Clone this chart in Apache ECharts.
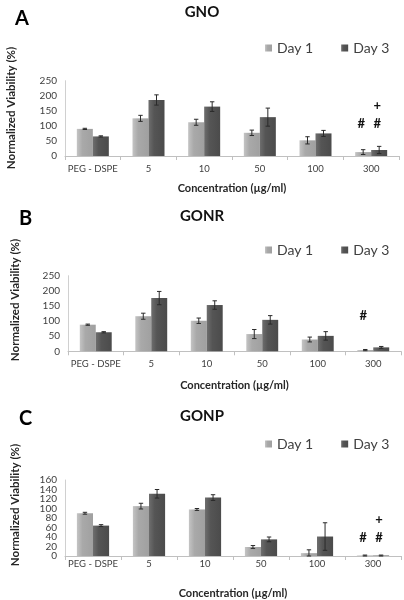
<!DOCTYPE html>
<html><head><meta charset="utf-8">
<script src="https://cdn.jsdelivr.net/npm/echarts@6/dist/echarts.min.js"></script>
<style>html,body{margin:0;padding:0;background:#fff}#c{width:404px;height:600px}</style>
</head><body><div id="c"></div>
<script>
var categories = ['PEG - DSPE', '5', '10', '50', '100', '300'];
var seriesNames = ['Day 1', 'Day 3'];
var panelLetters = ['A', 'B', 'C'];
var panelTitles = ['GNO', 'GONR', 'GONP'];
var yLabel = 'Normalized Viability (%)';
var xLabel = 'Concentration (\u00b5g/ml)';

var gnoDay1 = [90, 125, 112, 77, 52, 13];
var gnoDay1Err = [2, 10, 10, 9, 12, 8];
var gnoDay3 = [65, 186, 164, 129, 75, 20];
var gnoDay3Err = [2, 17, 16, 30, 10, 12];

var gonrDay1 = [88, 116, 101, 57, 39, 4];
var gonrDay1Err = [2, 10, 9, 15, 8, 2];
var gonrDay3 = [63, 176, 153, 104, 51, 13];
var gonrDay3Err = [2, 22, 14, 14, 14, 3];

var gonpDay1 = [90, 105, 98, 19, 6, 1];
var gonpDay1Err = [2, 6, 2, 3, 7, 1];
var gonpDay3 = [64, 131, 123, 35, 41, 1];
var gonpDay3Err = [2, 9, 6, 5, 29, 1];

// annotations: [categoryIndex, seriesIndex(0=Day1,1=Day3), value, symbol]
var gnoMarks = [[5, 0, 107, '#'], [5, 1, 107, '#'], [5, 1, 168, '+']];
var gonrMarks = [[5, 0, 119, '#']];
var gonpMarks = [[5, 0, 39, '#'], [5, 1, 39, '#'], [5, 1, 77, '+']];

var yMax = [250, 250, 160];
var yStep = [50, 50, 20];

var panels = [
  {d1: gnoDay1, e1: gnoDay1Err, d3: gnoDay3, e3: gnoDay3Err, marks: gnoMarks},
  {d1: gonrDay1, e1: gonrDay1Err, d3: gonrDay3, e3: gonrDay3Err, marks: gonrMarks},
  {d1: gonpDay1, e1: gonpDay1Err, d3: gonpDay3, e3: gonpDay3Err, marks: gonpMarks}
];

var FONT = 'Lato, "Open Sans", sans-serif';
var CAT_GAP = 0.425;
var grids = [
  {left: 65, right: 5, top: 80.7, height: 75.3},
  {left: 68, right: 3, top: 275.7, height: 75.6},
  {left: 65, right: 3, top: 480, height: 78.7}
];
var nameGaps = [27, 29, 32];
var labelMargins = [8, 8, 3];
var letterPos = [[10, 4], [14, 204], [14, 404]];
var titleTop = [5, 209, 409];
var legendTop = [36, 238, 432];
var yNamePos = [[11, 108], [15, 300], [15, 505]];

var col1 = new echarts.graphic.LinearGradient(0, 0, 1, 0, [{offset: 0, color: '#c4c4c4'}, {offset: 0.35, color: '#a9a9a9'}, {offset: 1, color: '#a0a0a0'}]);
var col3 = new echarts.graphic.LinearGradient(0, 0, 1, 0, [{offset: 0, color: '#6e6e6e'}, {offset: 0.35, color: '#555555'}, {offset: 1, color: '#4b4b4b'}]);
var cols = [col1, col3];

function errRender(sIdx) {
  return function (params, api) {
    var ci = api.value(0), v = api.value(1), e = api.value(2);
    var catW = api.size([1, 0])[0];
    var bw = catW * (1 - CAT_GAP) / 2;
    var off = (sIdx === 0 ? -0.5 : 0.5) * bw;
    var top = api.coord([ci, v + e]);
    var bot = api.coord([ci, Math.max(0, v - e)]);
    var x = top[0] + off, cap = 2.2;
    var st = {stroke: '#2a2a2a', lineWidth: 1};
    return {type: 'group', children: [
      {type: 'line', shape: {x1: x, y1: top[1], x2: x, y2: bot[1]}, style: st},
      {type: 'line', shape: {x1: x - cap, y1: top[1], x2: x + cap, y2: top[1]}, style: st},
      {type: 'line', shape: {x1: x - cap, y1: bot[1], x2: x + cap, y2: bot[1]}, style: st}
    ]};
  };
}

function markRender(marks) {
  return function (params, api) {
    var m = marks[params.dataIndex];
    var catW = api.size([1, 0])[0];
    var bw = catW * (1 - CAT_GAP) / 2;
    var p = api.coord([m[0], m[2]]);
    var x = p[0] + (m[1] === 0 ? -0.5 : 0.5) * bw - 2;
    return {type: 'text', x: x, y: p[1], style: {text: m[3], fill: '#111', font: 'bold 13px ' + FONT, align: 'center', verticalAlign: 'middle'}};
  };
}

var option = {
  animation: false,
  backgroundColor: '#fff',
  textStyle: {fontFamily: FONT},
  title: [], legend: [], grid: [], xAxis: [], yAxis: [], series: [], graphic: []
};

var yLabelStyle = {fontSize: 10, color: '#404040', margin: 8, fontFamily: FONT};

panels.forEach(function (p, i) {
  option.grid.push(grids[i]);
  option.title.push({text: panelLetters[i], left: letterPos[i][0], top: letterPos[i][1], textStyle: {fontSize: 20, fontWeight: 'bold', color: '#000', fontFamily: FONT}});
  option.title.push({text: panelTitles[i], left: 'center', top: titleTop[i], textStyle: {fontSize: 15, fontWeight: 'bold', color: '#111', fontFamily: FONT}, padding: [0, 0, 0, 0]});
  option.legend.push({data: seriesNames.map(function (n) { return {name: n}; }), left: 260, top: legendTop[i], icon: 'rect', itemWidth: 7, itemHeight: 7, itemGap: 28, textStyle: {fontSize: 14, color: '#404040', fontFamily: FONT}, selectedMode: false});
  option.xAxis.push({type: 'category', gridIndex: i, data: categories, boundaryGap: true,
    name: xLabel, nameLocation: 'middle', nameGap: nameGaps[i], nameTextStyle: {fontSize: 11, fontWeight: 'bold', color: '#262626', fontFamily: FONT},
    axisLine: {lineStyle: {color: '#c0c0c0'}}, axisTick: {show: true, length: 4, lineStyle: {color: '#c0c0c0'}},
    axisLabel: {fontSize: 9.5, color: '#404040', margin: labelMargins[i], fontFamily: FONT, interval: 0}});
  var yl = Object.assign({}, yLabelStyle);
  if (i === 2) { yl.showMinLabel = false; yl.showMaxLabel = false; }
  option.yAxis.push({type: 'value', gridIndex: i, min: 0, max: yMax[i], interval: yStep[i],
    axisLine: {show: true, lineStyle: {color: '#d0d0d0'}}, axisTick: {show: false}, splitLine: {show: false},
    axisLabel: yl});
  option.graphic.push({type: 'text', x: yNamePos[i][0], y: yNamePos[i][1], rotation: Math.PI / 2,
    style: {text: yLabel, font: 'bold 11.5px ' + FONT, fill: '#262626', align: 'center', verticalAlign: 'middle'}});
  [[p.d1, p.e1], [p.d3, p.e3]].forEach(function (pair, s) {
    option.series.push({type: 'bar', name: seriesNames[s], xAxisIndex: i, yAxisIndex: i, data: pair[0],
      barGap: '0%', barCategoryGap: (CAT_GAP * 100) + '%', itemStyle: {color: cols[s]}});
  });
  [[p.d1, p.e1], [p.d3, p.e3]].forEach(function (pair, s) {
    option.series.push({type: 'custom', xAxisIndex: i, yAxisIndex: i, renderItem: errRender(s), z: 5,
      data: pair[0].map(function (v, k) { return [k, v, pair[1][k]]; })});
  });
  option.series.push({type: 'custom', xAxisIndex: i, yAxisIndex: i, renderItem: markRender(p.marks), z: 6,
    data: p.marks.map(function (m) { return [m[0], m[2]]; })});
});

// panel C: the end labels (0 and 160) on a companion axis so the dense axis keeps all its labels
option.yAxis.push({type: 'value', gridIndex: 2, position: 'left', min: 0, max: yMax[2], interval: yMax[2],
  axisLine: {show: false}, axisTick: {show: false}, splitLine: {show: false}, axisLabel: yLabelStyle});

var chart = echarts.init(document.getElementById('c'), null, {renderer: 'canvas'});
chart.setOption(option);
</script>
</body></html>
